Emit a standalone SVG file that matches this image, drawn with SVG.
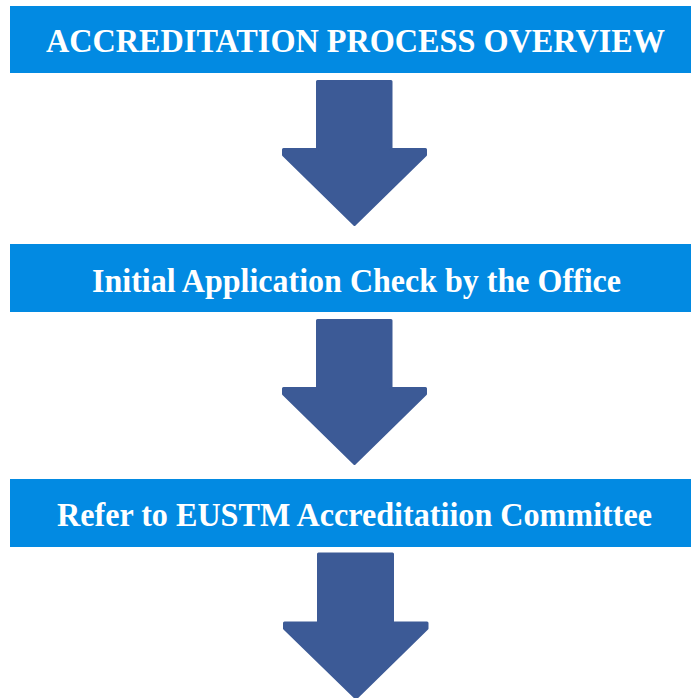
<svg xmlns="http://www.w3.org/2000/svg" width="691" height="698" viewBox="0 0 691 698">
<style>
.box{fill:#028ae2}
.lbl{font-family:"Liberation Serif","Times New Roman",serif;font-weight:bold;font-size:33px;fill:#ffffff}
.arr{fill:#3c5a96;stroke:#3c5a96;stroke-width:3;stroke-linejoin:round}
</style>
<rect width="691" height="698" fill="#ffffff"/>
<g id="node-overview">
<rect class="box" x="10" y="6" width="681" height="67"/>
<text class="lbl" x="46" y="52" textLength="619" lengthAdjust="spacingAndGlyphs">ACCREDITATION PROCESS OVERVIEW</text>
</g>
<g id="node-initial-check">
<rect class="box" x="10" y="244" width="681" height="68"/>
<text class="lbl" x="92" y="292" textLength="529" lengthAdjust="spacingAndGlyphs">Initial Application Check by the Office</text>
</g>
<g id="node-refer">
<rect class="box" x="10" y="479" width="681" height="68"/>
<text class="lbl" x="57" y="526" textLength="595" lengthAdjust="spacingAndGlyphs">Refer to EUSTM Accreditatiion Committee</text>
</g>
<g id="connectors">
<path class="arr" d="M317.5,81.5 H391 V149.5 H425.5 V155 L354.5,224.5 L283.5,155 V149.5 H317.5 Z"/>
<path class="arr" d="M317.5,320.5 H391 V388.5 H425.5 V394 L354.5,463.5 L283.5,394 V388.5 H317.5 Z"/>
<path class="arr" d="M318.5,554 H392.5 V623 H427 V628.5 L356,698 L284.5,628.5 V623 H318.5 Z"/>
</g>
</svg>
